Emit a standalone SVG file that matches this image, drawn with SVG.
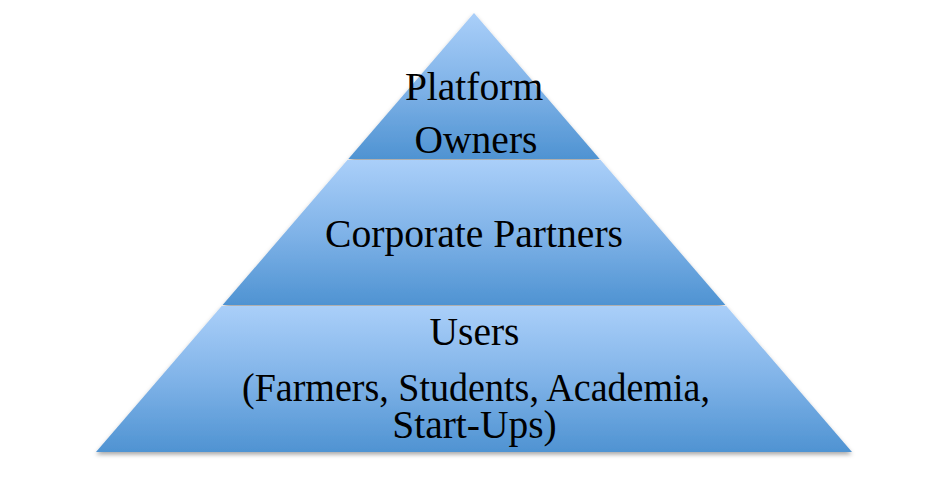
<svg xmlns="http://www.w3.org/2000/svg" width="936" height="492" viewBox="0 0 936 492">
  <defs>
    <linearGradient id="tierGrad" x1="0" y1="0" x2="0" y2="1">
      <stop offset="0" stop-color="#aacff9"/>
      <stop offset="0.5" stop-color="#80b3e8"/>
      <stop offset="1" stop-color="#4f93d2"/>
    </linearGradient>
    <filter id="shadow" x="-5%" y="-5%" width="110%" height="115%">
      <feDropShadow dx="0" dy="2.5" stdDeviation="2" flood-color="#000" flood-opacity="0.35"/>
    </filter>
  </defs>
  <style>
    .tier { fill: url(#tierGrad); }
    .label { font-family: "Liberation Serif", "Times New Roman", serif; font-size: 39.5px; fill: #000; text-anchor: middle; }
  </style>
  <rect width="936" height="492" fill="#ffffff"/>
  <g id="pyramid" filter="url(#shadow)">
    <g id="tier-users">
      <polygon class="tier" points="221.7,306 726.3,306 852,452 96,452"/>
    </g>
    <g id="tier-corporate">
      <polygon class="tier" points="347.4,160 600.6,160 725.4,305 222.6,305"/>
    </g>
    <g id="tier-platform">
      <polygon class="tier" points="474,13 599.7,159 348.3,159"/>
    </g>
  </g>
  <g id="labels">
    <text class="label" x="474" y="100">Platform</text>
    <text class="label" x="476" y="153">Owners</text>
    <text class="label" x="474" y="247" textLength="298" lengthAdjust="spacingAndGlyphs">Corporate Partners</text>
    <text class="label" x="474.5" y="345">Users</text>
    <text class="label" x="476" y="401" textLength="468" lengthAdjust="spacingAndGlyphs">(Farmers, Students, Academia,</text>
    <text class="label" x="474.5" y="438">Start-Ups)</text>
  </g>
</svg>
